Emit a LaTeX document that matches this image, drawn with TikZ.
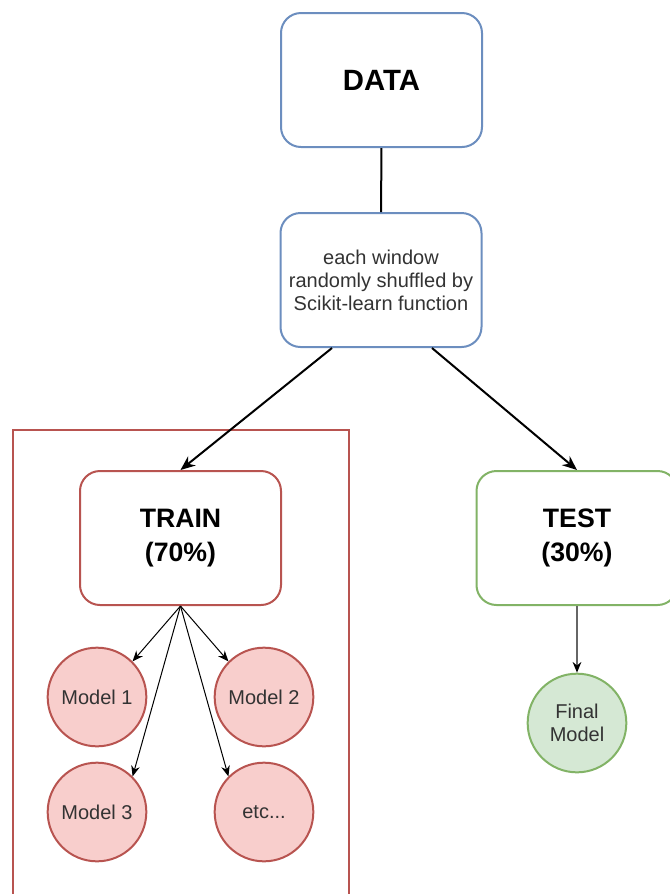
\documentclass[tikz,border=0pt]{standalone}
\usepackage{fontspec}
\setmainfont{Liberation Sans}
\usetikzlibrary{arrows.meta}
\definecolor{bluestroke}{HTML}{6C8EBF}
\definecolor{redstroke}{HTML}{B85450}
\definecolor{redfill}{HTML}{F8CECC}
\definecolor{greenstroke}{HTML}{82B366}
\definecolor{greenfill}{HTML}{D5E8D4}
\definecolor{txtgray}{HTML}{333333}

\begin{document}
\begin{tikzpicture}[x=0.75pt, y=-0.75pt,
  box/.style={draw, line width=1.5pt, rounded corners=15pt, fill=white,
    minimum width=150.75pt, minimum height=100.5pt, align=center, inner sep=0pt},
  bigtext/.style={font=\bfseries\fontsize{20}{25.5}\selectfont},
  smalltext/.style={font=\fontsize{15}{17.2}\selectfont, text=txtgray},
  model/.style={circle, draw=redstroke, fill=redfill, line width=1.5pt,
    minimum size=74pt, inner sep=0pt, align=center, smalltext},
  bigarrow/.style={-{Stealth[length=11pt,width=9pt]}, line width=1.5pt},
  smallarrow/.style={-{Stealth[length=8pt,width=6.5pt]}, line width=0.75pt}]
\useasboundingbox (0,0) rectangle (670,894);

% train frame, open at the bottom
\draw[redstroke, line width=1.5pt] (13,900) -- (13,430) -- (349,430) -- (349,900);

\node[box, draw=bluestroke, font=\bfseries\fontsize{22}{26}\selectfont] (data) at (381.5,80) {DATA};
\node[box, draw=bluestroke, smalltext] (shuffle) at (381,280)
  {each window\\randomly shuffled by\\Scikit-learn function};
\node[box, draw=redstroke, bigtext] (train) at (180.5,538) {TRAIN\\(70\%)};
\node[box, draw=greenstroke, bigtext] (test) at (577,538) {TEST\\(30\%)};

\node[model] (m1) at (97,697) {Model 1};
\node[model] (m2) at (264,697) {Model 2};
\node[model] (m3) at (97,812) {Model 3};
\node[model] (etc) at (264,812) {etc...};
\node[model, draw=greenstroke, fill=greenfill] (final) at (577,723) {Final\\Model};

\draw[line width=1.5pt] (data) -- (shuffle);
\draw[bigarrow] ([xshift=-36.75pt]shuffle.south) -- (train.north);
\draw[bigarrow] ([xshift=38.25pt]shuffle.south) -- (test.north);

\draw[smallarrow] (train.south) -- (m1.45);
\draw[smallarrow] (train.south) -- (m2.135);
\draw[smallarrow] (train.south) -- (m3.45);
\draw[smallarrow] (train.south) -- (etc.135);

\draw[smallarrow, draw=black!60, -{Stealth[length=8pt,width=6.5pt,black]}, line width=1pt] (test) -- (final);
\end{tikzpicture}
\end{document}
